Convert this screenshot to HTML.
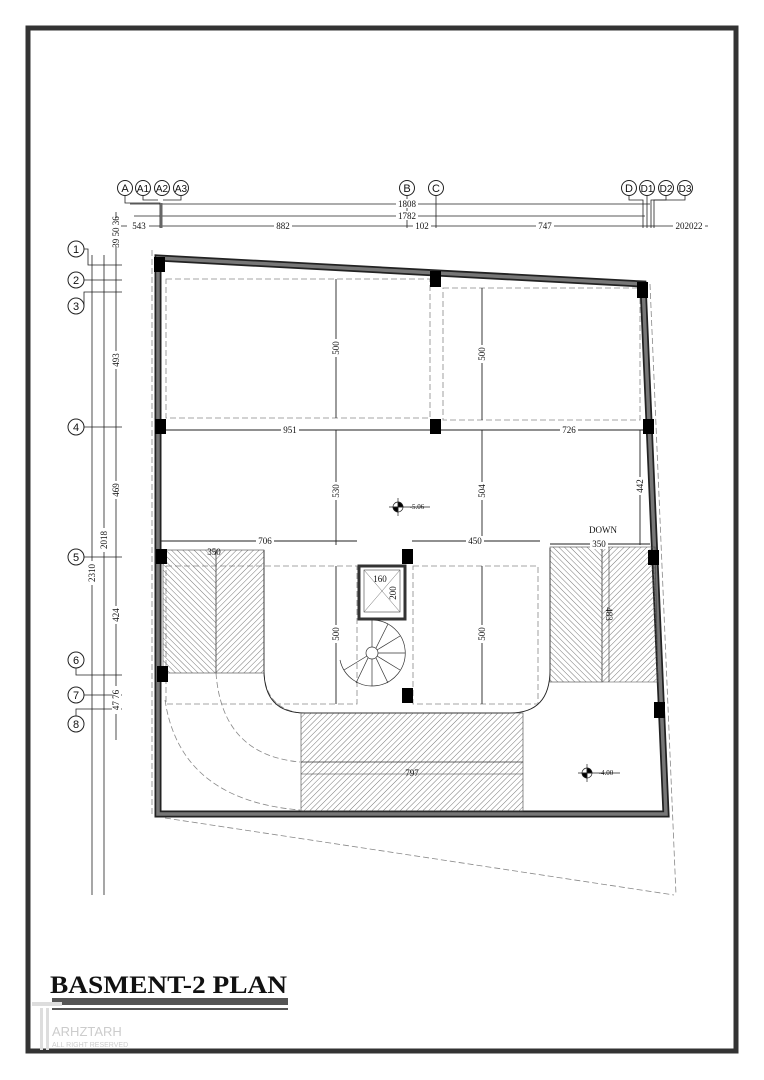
<!DOCTYPE html>
<html><head><meta charset="utf-8"><style>
html,body{margin:0;padding:0;background:#fff}
svg{display:block}
text{font-family:"Liberation Serif",serif;fill:#111}
.s{font-family:"Liberation Sans",sans-serif}
</style></head><body>
<svg width="764" height="1080" viewBox="0 0 764 1080" xmlns="http://www.w3.org/2000/svg">
<defs>
<pattern id="hA" width="4" height="4" patternUnits="userSpaceOnUse" patternTransform="rotate(45)"><line x1="0" y1="0" x2="0" y2="4" stroke="#555" stroke-width="0.8"/></pattern>
<pattern id="hB" width="4" height="4" patternUnits="userSpaceOnUse" patternTransform="rotate(-45)"><line x1="0" y1="0" x2="0" y2="4" stroke="#555" stroke-width="0.8"/></pattern>
</defs>
<rect x="28" y="28" width="708" height="1023" fill="none" stroke="#333" stroke-width="5"/>

<!-- top grid -->
<g stroke="#222" stroke-width="1" fill="#fff">
<circle cx="125" cy="188" r="7.5"/><circle cx="143" cy="188" r="7.5"/><circle cx="162" cy="188" r="7.5"/><circle cx="181" cy="188" r="7.5"/>
<circle cx="407" cy="188" r="7.5"/><circle cx="436" cy="188" r="7.5"/>
<circle cx="629" cy="188" r="7.5"/><circle cx="647" cy="188" r="7.5"/><circle cx="666" cy="188" r="7.5"/><circle cx="685" cy="188" r="7.5"/>
</g>
<g stroke="#222" stroke-width="0.8" fill="none">
<polyline points="125,196 125,203 160,203 160,228"/>
<polyline points="143,196 143,200 158,200"/>
<polyline points="181,196 181,200 163,200"/>
<line x1="407" y1="196" x2="407" y2="228"/>
<line x1="436" y1="196" x2="436" y2="228"/>
<polyline points="629,196 629,200 643,200 643,228"/>
<line x1="647" y1="196" x2="647" y2="228"/>
<polyline points="666,196 666,200 651,200 651,228"/>
<polyline points="685,196 685,200 654,200 654,228"/>
<line x1="130" y1="204" x2="650" y2="204"/>
<line x1="134" y1="216" x2="645" y2="216"/>
<line x1="118" y1="226" x2="708" y2="226"/>
</g>
<rect x="160" y="203" width="2.5" height="25" fill="#666"/>
<g font-size="9" text-anchor="middle">
<text class="s" x="125" y="192" font-size="11">A</text><text class="s" x="143" y="192" font-size="10">A1</text><text class="s" x="162" y="192" font-size="10">A2</text><text class="s" x="181" y="192" font-size="10">A3</text>
<text class="s" x="407" y="192" font-size="11">B</text><text class="s" x="436" y="192" font-size="11">C</text>
<text class="s" x="629" y="192" font-size="11">D</text><text class="s" x="647" y="192" font-size="10">D1</text><text class="s" x="666" y="192" font-size="10">D2</text><text class="s" x="685" y="192" font-size="10">D3</text>
<rect x="396" y="199" width="22" height="9" fill="#fff"/><text x="407" y="207">1808</text>
<rect x="396" y="211" width="22" height="9" fill="#fff"/><text x="407" y="219">1782</text>
<rect x="127" y="222" width="22" height="9" fill="#fff"/><text x="139" y="229">543</text>
<rect x="274" y="222" width="18" height="9" fill="#fff"/><text x="283" y="229">882</text>
<rect x="413" y="222" width="18" height="9" fill="#fff"/><text x="422" y="229">102</text>
<rect x="536" y="222" width="18" height="9" fill="#fff"/><text x="545" y="229">747</text>
<rect x="673" y="222" width="32" height="9" fill="#fff"/><text x="689" y="229">202022</text>
</g>

<!-- left grid -->
<g stroke="#222" stroke-width="1" fill="#fff">
<circle cx="76" cy="249" r="8"/><circle cx="76" cy="280" r="8"/><circle cx="76" cy="306" r="8"/><circle cx="76" cy="427" r="8"/>
<circle cx="76" cy="557" r="8"/><circle cx="76" cy="660" r="8"/><circle cx="76" cy="695" r="8"/><circle cx="76" cy="724" r="8"/>
</g>
<g stroke="#222" stroke-width="0.8" fill="none">
<line x1="92" y1="255" x2="92" y2="895"/>
<line x1="104" y1="255" x2="104" y2="895"/>
<line x1="116" y1="212" x2="116" y2="740"/>
<polyline points="84,249 88,249 88,265 122,265"/>
<line x1="84" y1="280" x2="122" y2="280"/>
<polyline points="84,306 84,292 122,292"/>
<line x1="84" y1="427" x2="122" y2="427"/>
<line x1="84" y1="557" x2="122" y2="557"/>
<polyline points="76,668 76,675 122,675"/>
<line x1="84" y1="695" x2="122" y2="695"/>
<polyline points="76,716 76,709 122,709"/>
</g>
<g font-size="9" text-anchor="middle">
<g transform="translate(119,232) rotate(-90)"><rect x="-14" y="-7" width="28" height="9" fill="#fff"/><text x="0" y="0">39 50 36</text></g>
<g transform="translate(119,360) rotate(-90)"><rect x="-9" y="-7" width="18" height="9" fill="#fff"/><text x="0" y="0">493</text></g>
<g transform="translate(119,490) rotate(-90)"><rect x="-9" y="-7" width="18" height="9" fill="#fff"/><text x="0" y="0">469</text></g>
<g transform="translate(119,615) rotate(-90)"><rect x="-9" y="-7" width="18" height="9" fill="#fff"/><text x="0" y="0">424</text></g>
<g transform="translate(119,700) rotate(-90)"><rect x="-14" y="-7" width="28" height="9" fill="#fff"/><text x="0" y="0">47 76</text></g>
<g transform="translate(107,540) rotate(-90)"><rect x="-12" y="-7" width="24" height="9" fill="#fff"/><text x="0" y="0">2018</text></g>
<g transform="translate(95,573) rotate(-90)"><rect x="-12" y="-7" width="24" height="9" fill="#fff"/><text x="0" y="0">2310</text></g>
<text class="s" x="76" y="253" font-size="11">1</text><text class="s" x="76" y="284" font-size="11">2</text><text class="s" x="76" y="310" font-size="11">3</text><text class="s" x="76" y="431" font-size="11">4</text>
<text class="s" x="76" y="561" font-size="11">5</text><text class="s" x="76" y="664" font-size="11">6</text><text class="s" x="76" y="699" font-size="11">7</text><text class="s" x="76" y="728" font-size="11">8</text>
</g>

<!-- dashed site boundary -->
<g stroke="#888" stroke-width="0.8" fill="none" stroke-dasharray="6,3">
<line x1="152" y1="250" x2="152" y2="815"/>
<line x1="165" y1="818" x2="674" y2="895"/>
<line x1="650" y1="284" x2="676" y2="895"/>
<rect x="166" y="279" width="264" height="139"/>
<rect x="443" y="288" width="197" height="132"/>
<rect x="166" y="566" width="191" height="138"/>
<rect x="413" y="566" width="125" height="138"/>
<path d="M216,673 Q222,755 300,762"/>
<path d="M165,700 Q180,800 300,810"/>
<path d="M264,673 Q266,708 300,713"/>
</g>

<!-- walls -->
<path d="M158,258 L643,284 L666,814 L158,814 Z" fill="none" stroke="#222" stroke-width="7"/>
<path d="M158,258 L643,284 L666,814 L158,814 Z" fill="none" stroke="#777" stroke-width="3.5"/>

<!-- room lines -->
<g stroke="#222" stroke-width="0.9" fill="none">
<path d="M264,550 L264,670 Q264,713 305,713 L510,713 Q550,713 550,670 L550,548"/>
<line x1="160" y1="430" x2="645" y2="430"/>
<line x1="336" y1="279" x2="336" y2="418"/>
<line x1="482" y1="288" x2="482" y2="420"/>
<line x1="336" y1="430" x2="336" y2="545"/>
<line x1="482" y1="430" x2="482" y2="545"/>
<line x1="640" y1="430" x2="640" y2="545"/>
<line x1="160" y1="541" x2="357" y2="541"/>
<line x1="412" y1="541" x2="540" y2="541"/>
<line x1="550" y1="544" x2="650" y2="544"/>
<line x1="336" y1="566" x2="336" y2="704"/>
<line x1="482" y1="566" x2="482" y2="704"/>
</g>

<!-- ramps -->
<rect x="163" y="550" width="53" height="123" fill="url(#hB)" stroke="#444" stroke-width="0.6"/>
<rect x="216" y="550" width="48" height="123" fill="url(#hA)" stroke="#444" stroke-width="0.6"/>
<rect x="550" y="547" width="52" height="135" fill="url(#hB)" stroke="#444" stroke-width="0.6"/>
<path d="M602,547 L655,547 L658,682 L602,682 Z" fill="url(#hA)" stroke="#444" stroke-width="0.6"/>
<line x1="609" y1="547" x2="609" y2="682" stroke="#333" stroke-width="0.6"/>
<rect x="301" y="713" width="222" height="98" fill="url(#hA)" stroke="#444" stroke-width="0.6"/>
<line x1="301" y1="762" x2="523" y2="762" stroke="#333" stroke-width="0.8"/>
<line x1="301" y1="774" x2="523" y2="774" stroke="#333" stroke-width="0.6"/>

<!-- elevator -->
<rect x="359" y="566" width="46" height="53" fill="#fff" stroke="#333" stroke-width="3"/>
<rect x="364" y="570" width="36" height="42" fill="none" stroke="#444" stroke-width="0.6"/>
<line x1="364" y1="570" x2="400" y2="612" stroke="#666" stroke-width="0.5"/>
<line x1="400" y1="570" x2="364" y2="612" stroke="#666" stroke-width="0.5"/>
<!-- spiral stair -->
<g stroke="#333" stroke-width="0.7" fill="none">
<path d="M340,660 A33,33 0 1 0 372,620" />
<circle cx="372" cy="653" r="6"/>
<line x1="372" y1="620" x2="372" y2="647"/><line x1="388" y1="624" x2="376" y2="648"/><line x1="400" y1="636" x2="377" y2="650"/>
<line x1="405" y1="653" x2="378" y2="653"/><line x1="400" y1="670" x2="377" y2="656"/><line x1="388" y1="683" x2="376" y2="658"/>
<line x1="372" y1="686" x2="372" y2="659"/><line x1="356" y1="683" x2="368" y2="658"/><line x1="344" y1="670" x2="367" y2="656"/>
</g>

<!-- columns -->
<g fill="#000">
<rect x="154" y="257" width="11" height="15"/><rect x="430" y="271" width="11" height="16"/><rect x="637" y="282" width="11" height="16"/>
<rect x="155" y="419" width="11" height="15"/><rect x="430" y="419" width="11" height="15"/><rect x="643" y="419" width="11" height="15"/>
<rect x="156" y="549" width="11" height="15"/><rect x="402" y="549" width="11" height="15"/><rect x="648" y="550" width="11" height="15"/>
<rect x="157" y="666" width="11" height="16"/><rect x="402" y="688" width="11" height="15"/><rect x="654" y="702" width="11" height="16"/>
</g>

<!-- elevation markers -->
<g stroke="#222" stroke-width="0.7">
<circle cx="398" cy="507" r="5" fill="#fff"/><path d="M398,502 A5,5 0 0 1 403,507 L398,507 Z M398,512 A5,5 0 0 1 393,507 L398,507 Z" fill="#000"/>
<line x1="389" y1="507" x2="430" y2="507"/><line x1="398" y1="498" x2="398" y2="516"/>
<circle cx="587" cy="773" r="5" fill="#fff"/><path d="M587,768 A5,5 0 0 1 592,773 L587,773 Z M587,778 A5,5 0 0 1 582,773 L587,773 Z" fill="#000"/>
<line x1="578" y1="773" x2="620" y2="773"/><line x1="587" y1="764" x2="587" y2="782"/>
</g>

<!-- labels -->
<g font-size="9" text-anchor="middle">
<rect x="281" y="425" width="18" height="10" fill="#fff"/><text x="290" y="433">951</text>
<rect x="560" y="425" width="18" height="10" fill="#fff"/><text x="569" y="433">726</text>
<rect x="256" y="536" width="18" height="10" fill="#fff"/><text x="265" y="544">706</text>
<rect x="466" y="536" width="18" height="10" fill="#fff"/><text x="475" y="544">450</text>
<rect x="590" y="539" width="18" height="10" fill="#fff"/><text x="599" y="547">350</text>
<text x="603" y="533">DOWN</text>
<text x="214" y="555">350</text>
<text x="380" y="582">160</text>
<text x="412" y="776">797</text>
<text x="417" y="509" font-size="7">-5.06</text>
<text x="606" y="775" font-size="7">-4.00</text>
<g transform="translate(339,348) rotate(-90)"><rect x="-9" y="-7" width="18" height="9" fill="#fff"/><text x="0" y="0">500</text></g>
<g transform="translate(485,354) rotate(-90)"><rect x="-9" y="-7" width="18" height="9" fill="#fff"/><text x="0" y="0">500</text></g>
<g transform="translate(339,491) rotate(-90)"><rect x="-9" y="-7" width="18" height="9" fill="#fff"/><text x="0" y="0">530</text></g>
<g transform="translate(485,491) rotate(-90)"><rect x="-9" y="-7" width="18" height="9" fill="#fff"/><text x="0" y="0">504</text></g>
<g transform="translate(643,486) rotate(-90)"><rect x="-9" y="-7" width="18" height="9" fill="#fff"/><text x="0" y="0">442</text></g>
<g transform="translate(339,634) rotate(-90)"><rect x="-9" y="-7" width="18" height="9" fill="#fff"/><text x="0" y="0">500</text></g>
<g transform="translate(485,634) rotate(-90)"><rect x="-9" y="-7" width="18" height="9" fill="#fff"/><text x="0" y="0">500</text></g>
<g transform="translate(396,593) rotate(-90)"><text x="0" y="0">200</text></g>
<g transform="translate(606,614) rotate(90)"><text x="0" y="0">483</text></g>
</g>

<!-- title -->
<text x="50" y="993" font-size="25" font-weight="bold" textLength="237" lengthAdjust="spacingAndGlyphs" style="font-family:'Liberation Serif',serif">BASMENT-2 PLAN</text>
<rect x="52" y="998" width="236" height="7" fill="#555"/>
<rect x="52" y="1008" width="236" height="2" fill="#555"/>
<rect x="32" y="1002" width="30" height="4" fill="#ddd"/>
<rect x="40" y="1008" width="3" height="42" fill="#ddd"/><rect x="46" y="1008" width="3" height="42" fill="#ddd"/>
<text x="52" y="1036" font-size="13" class="s" style="fill:#ccc">ARHZTARH</text>
<text x="52" y="1047" font-size="7" class="s" style="fill:#ccc">ALL RIGHT RESERVED</text>
</svg>
</body></html>
